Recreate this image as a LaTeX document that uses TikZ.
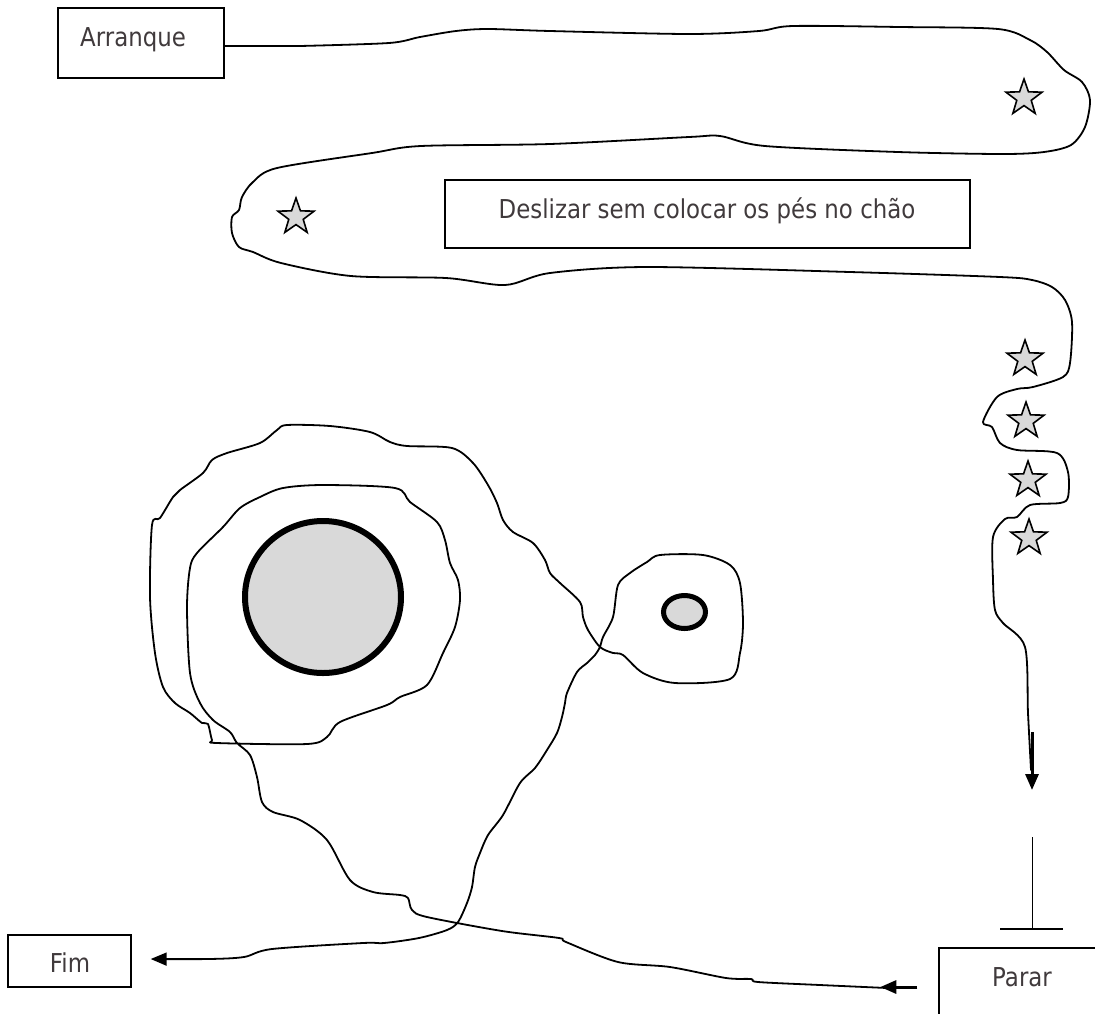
\documentclass[tikz,border=0pt]{standalone}
\usepackage{fontspec}
\newfontfamily\lblfont{DejaVu Sans}[FakeStretch=0.88]
\usetikzlibrary{arrows.meta,shapes.geometric,calc}
\definecolor{txtgray}{RGB}{64,58,60}
\definecolor{fillgray}{RGB}{217,217,217}
\begin{document}
\begin{tikzpicture}[x=1pt,y=-1pt]
\tikzset{
  route/.style={line width=1.8pt, line join=round, line cap=round},
  frame/.style={draw, rectangle, line width=1.4pt, inner sep=0pt},
  lbl/.style={text=txtgray, font={\lblfont\fontsize{26}{30}\selectfont}, inner sep=0pt},
  spot/.style={star, star points=5, star point ratio=2.5, draw, fill=fillgray,
               line width=1.6pt, minimum size=38pt, inner sep=0pt},
  pool/.style={ellipse, draw, fill=fillgray, inner sep=0pt},
  headtip/.style={-{Triangle[length=16pt,width=13pt]}},
}
\useasboundingbox (0,0) rectangle (1095,1013);

% boxes and their texts
\node[frame, minimum width=166pt, minimum height=70pt] (arranque) at (141,43) {};
\node[lbl, anchor=base west] (arranquetxt) at (80,46) {Arranque};
\node[frame, minimum width=525pt, minimum height=68pt] (deslizar) at (707.5,214) {};
\node[lbl, anchor=base] (deslizartxt) at (707,218) {Deslizar sem colocar os pés no chão};
\node[frame, minimum width=123pt, minimum height=52pt] (fim) at (69.5,961) {};
\node[lbl, anchor=base] (fimtxt) at (70,972) {Fim};
\begin{scope}
  \clip (0,0) rectangle (1095,1013);
  \node[frame, minimum width=181pt, minimum height=92pt] (parar) at (1029.5,994) {};
\end{scope}
\node[lbl, anchor=base] (parartxt) at (1022,986) {Parar};

% water holes
\node[pool, line width=6pt, minimum width=156pt, minimum height=152pt] (bigpool) at (323,597) {};
\node[pool, line width=5pt, minimum width=42pt, minimum height=33pt] (smallpool) at (684.5,612) {};

% stars along the course
\node[spot] (s1) at (1024,98) {};
\node[spot] (s2) at (296,217) {};
\node[spot] (s3) at (1025,359) {};
\node[spot] (s4) at (1026,421) {};
\node[spot] (s5) at (1028,480) {};
\node[spot] (s6) at (1029,538) {};

% course from the start down to the stop
\draw[route] ($(arranque.east)+(0,3)$) -- plot[smooth, tension=0.5] coordinates {
  (300,46) (389,43) (420,37) (456,31) (488,29) (550,31) (689,34) (759,31) (793,26)
  (900,27) (998,29) (1030,40) (1047,52) (1064,70) (1082,82) (1090,100) (1085,127) (1071,145)
  (1044,152) (1002,154) (898,152) (765,146) (720,136) (689,137) (550,144) (421,146)
  (372,153) (277,168) (253,182) (242,197) (239,210) (232,217) (232,233) (239,247)
  (253,252) (281,263) (351,276) (446,278) (505,285) (550,273) (647,267) (850,272)
  (1000,277) (1032,280) (1052,287) (1065,300) (1072,322) (1070,363) (1063,377) (1033,387) (1017,389)
  (997,397) (983,422) (992,427) (1000,443) (1017,450) (1057,453) (1068,472)
  (1068,497) (1060,503) (1030,505) (1017,517) (1005,519) (993,537) (993,580)
  (995,610) (1003,623) (1025,647) (1028,713) (1031,770)};

\coordinate (downtail) at (1032,732);
\coordinate (downtip) at (1032,790);
\draw[line width=3pt, headtip] (downtail) -- (downtip);

% stop mark above the stop box
\coordinate (stoptop) at (1032,837);
\coordinate (stopfoot) at (1032,929);
\coordinate (barleft) at (1000,929);
\coordinate (barright) at (1063,929);
\draw[line width=1pt] (stoptop) -- (stopfoot);
\draw[line width=1.2pt] (barleft) -- (barright);

% leaving the stop box
\coordinate (outtail) at ($(parar.west)+(-21,-7)$);
\coordinate (outtip) at ($(parar.west)+(-58,-7)$);
\draw[line width=3pt, headtip] (outtail) -- (outtip);

% course round the holes to the finish
\coordinate (fimtip) at ($(fim.east)+(19,-2)$);
\draw[route, headtip] plot[smooth, tension=0.5] coordinates {
  (887,988) (820,985) (758,982) (751,979) (726,978) (670,967) (618,962) (566,942)
  (559,938) (502,931) (427,917) (412,910) (408,898) (400,895) (373,892) (350,880)
  (327,840) (300,820) (273,812) (262,802) (257,777) (250,755) (237,743) (230,732)
  (213,720) (200,703) (190,673) (187,607) (190,568) (197,553) (223,527) (240,508)
  (260,497) (283,488) (323,485) (395,488) (410,502) (437,522) (445,540) (450,563)
  (458,580) (460,600) (455,627) (443,653) (427,685) (400,697) (387,705) (340,722)
  (327,737) (307,744) (217,743) (212,740) (208,724) (202,723) (190,713) (175,703)
  (163,687) (155,653) (150,597) (152,525) (160,518) (173,497) (180,490) (203,473)
  (212,460) (227,453) (260,443) (277,430) (287,425) (330,426) (370,432) (390,442)
  (407,446) (452,448) (473,463) (488,485) (497,503) (503,520) (513,532) (533,543)
  (545,560) (550,573) (560,583) (580,602) (583,617) (588,630) (600,647) (613,653)
  (623,655) (643,673) (675,683) (730,679) (740,653) (743,623) (740,583) (730,565)
  (703,555) (660,555) (647,562) (630,573) (618,585) (613,617) (603,637) (600,647)
  (595,655) (587,663) (577,672) (567,693) (565,703) (562,717) (557,733) (547,750)
  (535,768) (520,783) (503,815) (488,835) (480,853) (475,867) (472,887) (467,903)
  (458,922) (447,930) (419,938) (384,943) (363,943) (272,949) (244,957) (209,959)
  (fimtip)};
\end{tikzpicture}
\end{document}
